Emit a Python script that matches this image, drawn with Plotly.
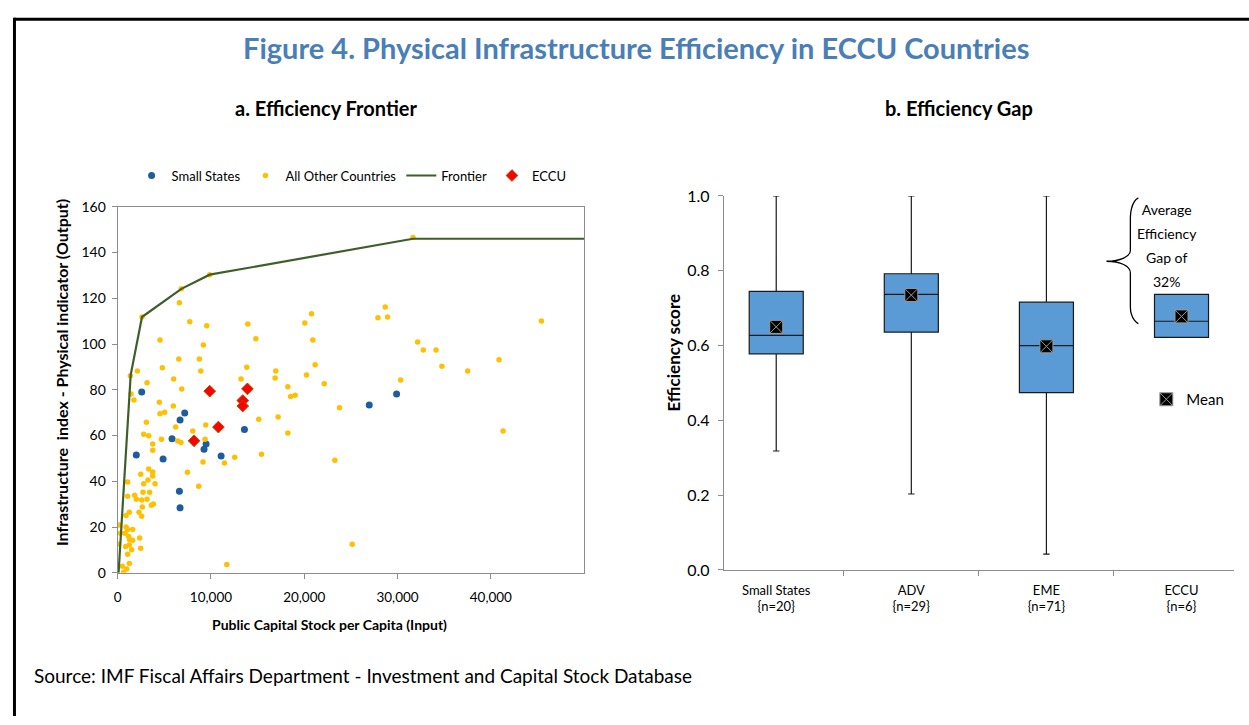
import plotly.graph_objects as go

# ---- panel a: efficiency frontier (input = capital stock per capita, output = infra index)
small_x = [2580, 2000, 4870, 5830, 6690, 7190, 6620, 6690, 9260, 9480, 11090, 13590, 26970, 29900]
small_y = [79.0, 51.5, 49.8, 58.6, 66.8, 69.9, 35.7, 28.4, 54.0, 56.3, 51.1, 62.6, 73.3, 78.2]

other_x = [1360, 2110, 2610, 3150, 4540, 4790, 6010, 6620, 6830, 6550, 7730, 8760, 8910, 9190,
           9550, 9870, 6870, 13950, 13840, 14810, 13230, 16880, 16950, 18240, 20060, 20780, 20920,
           21170, 20240, 22140, 31650, 28680, 27900, 28930, 32150, 32760, 34120, 34760, 37520,
           40880, 45420, 30330, 23780, 23280, 25140, 41310,
           1430, 1750, 4470, 4540, 5040, 5970, 3080, 6220, 8050, 9440, 2790, 3330, 4690, 6440,
           6790, 9370, 3760, 3760, 3330, 3760, 3760, 2470, 3250, 2790, 4010, 1070, 2720, 3430,
           1070, 1820, 2000, 2580, 3150, 2650, 3610, 3830, 2290, 2580, 1250, 900, 180, 900,
           1070, 1610, 290, 790, 1180, 1290, 1610, 2360, 2470, 80, 860, 1250, 1500, 1070, 1250,
           500, 970, 640, 9150, 8690, 7480, 11450, 12550, 11700, 15130, 17200, 15420, 18530,
           19020, 18240]
other_y = [86.1, 88.2, 111.8, 83.1, 101.8, 89.6, 84.7, 118.0, 124.1, 93.5, 109.7, 93.5, 88.2, 99.6,
           108.0, 130.3, 80.3, 108.8, 89.9, 102.3, 84.7, 85.1, 88.2, 81.3, 109.2, 113.2, 101.8,
           90.9, 86.5, 82.6, 146.5, 116.2, 111.5, 111.8, 100.9, 97.4, 97.4, 90.3, 88.2,
           93.1, 110.1, 84.3, 72.1, 49.2, 12.5, 62.0,
           78.2, 75.5, 74.6, 69.5, 70.2, 72.9, 65.8, 63.7, 62.0, 64.6, 60.6, 59.9, 58.4, 57.6,
           57.0, 58.4, 56.3, 53.6, 45.4, 44.1, 42.3, 43.1, 40.6, 38.9, 38.9, 39.7, 35.2, 35.2,
           33.5, 33.9, 32.2, 31.8, 32.2, 28.8, 29.5, 30.1, 26.5, 24.7, 26.5, 25.1, 20.9, 20.0,
           19.0, 19.0, 17.3, 17.3, 15.9, 14.5, 14.3, 15.2, 10.8, 12.6, 11.5, 12.2, 10.1, 8.1, 4.1,
           2.9, 1.7, 0.3, 48.4, 37.9, 44.0, 48.0, 50.5, 3.7, 67.1, 68.1, 51.8, 77.1,
           77.6, 61.1]

eccu_x = [9870, 13910, 13410, 13410, 10800, 8190]
eccu_y = [79.4, 80.4, 75.3, 72.9, 63.7, 57.7]

frontier_x = [100, 1400, 2610, 6830, 9870, 31650, 50000]
frontier_y = [0, 86.5, 111.8, 124.1, 130.3, 146.0, 146.0]

# ---- panel b: efficiency gap box plots
groups = ["Small States<br>{n=20}", "ADV<br>{n=29}", "EME<br>{n=71}", "ECCU<br>{n=6}"]
q1 = [0.578, 0.636, 0.474, 0.622]
median = [0.627, 0.737, 0.600, 0.665]
q3 = [0.745, 0.792, 0.716, 0.737]
low = [0.318, 0.203, 0.042, 0.622]
high = [1.0, 1.0, 1.0, 0.737]
mean = [0.650, 0.735, 0.598, 0.678]

W, H = 1249, 725
FONT = "Lato, sans-serif"


def px(x):
    return x / W


def py(y):
    return 1 - y / H


fig = go.Figure()

fig.add_trace(go.Scatter(x=small_x, y=small_y, mode="markers", name="Small States",
                         marker=dict(color="#1F5C9E", size=7), legend="legend"))
fig.add_trace(go.Scatter(x=other_x, y=other_y, mode="markers", name="All Other Countries",
                         marker=dict(color="#FFC000", size=5.5), legend="legend"))
fig.add_trace(go.Scatter(x=frontier_x, y=frontier_y, mode="lines", name="Frontier",
                         line=dict(color="#3F5F2A", width=2.2), legend="legend"))
fig.add_trace(go.Scatter(x=eccu_x, y=eccu_y, mode="markers", name="ECCU",
                         marker=dict(color="#FF0000", size=9, symbol="diamond",
                                     line=dict(color="#9A5A00", width=1)), legend="legend"))

fig.add_trace(go.Box(x=groups, q1=q1, median=median, q3=q3, lowerfence=low, upperfence=high,
                     xaxis="x2", yaxis="y2", fillcolor="#5B9BD5", width=0.4, whiskerwidth=0.12,
                     line=dict(color="#1a1a1a", width=1.2), boxpoints=False, showlegend=False))
fig.add_trace(go.Scatter(x=groups, y=mean, mode="markers", name="Mean", xaxis="x2", yaxis="y2",
                         marker=dict(symbol="square-x", size=13, color="#000000",
                                     line=dict(color="#9a9a9a", width=1)),
                         legend="legend2"))

axis_common = dict(showline=True, linecolor="#8c8c8c", linewidth=1, ticks="outside", ticklen=5,
                   tickcolor="#8c8c8c", showgrid=False, zeroline=False)


def tf(size):
    return dict(family=FONT, size=size, color="#000")


fig.update_layout(
    width=W, height=H, margin=dict(l=0, r=0, t=0, b=0),
    paper_bgcolor="white", plot_bgcolor="white",
    xaxis=dict(domain=[px(114), px(582)], range=[0, 50000], tickvals=[0, 10000, 20000, 30000, 40000],
               tickformat=",", mirror=True, tickfont=tf(13.5), ticklabelstandoff=7, **axis_common),
    yaxis=dict(domain=[py(578), py(202)], range=[0, 160], dtick=20, mirror=True, tickfont=tf(14),
               ticklabelstandoff=3, **axis_common),
    xaxis2=dict(domain=[px(722), px(1234)], anchor="y2", type="category", tickson="boundaries",
                tickfont=tf(13), ticklabelstandoff=8, **axis_common),
    yaxis2=dict(domain=[py(575), py(191)], anchor="x2", range=[0, 1], dtick=0.2, tickformat=".1f",
                tickfont=tf(16), ticklabelstandoff=5, **axis_common),
    legend=dict(orientation="h", x=px(128), y=py(170), xanchor="left", yanchor="middle",
                font=tf(13), bgcolor="rgba(0,0,0,0)"),
    legend2=dict(x=px(1146), y=py(400), xanchor="left", yanchor="middle",
                 font=tf(15), bgcolor="rgba(0,0,0,0)"),
)

gap_text = "<br>".join(f"<span style='font-size:14px'>{s}</span>"
                       for s in ["Average", "Efficiency", "Gap of", "32%"])

ann = [
    dict(text="<b>Figure 4. Physical Infrastructure Efficiency in ECCU Countries</b>", x=px(634), y=py(38),
         font=dict(size=29, color="#4A7EB6")),
    dict(text="<b>a. Efficiency Frontier</b>", x=px(323), y=py(101), font=dict(size=20)),
    dict(text="<b>b. Efficiency Gap</b>", x=px(958), y=py(101), font=dict(size=20)),
    dict(text="<b>Infrastructure  index - Physical indicator (Output)</b>", x=px(57), y=py(372),
         textangle=-90, font=dict(size=16)),
    dict(text="<b>Public Capital Stock per Capita (Input)</b>", x=px(327), y=py(631), font=dict(size=14)),
    dict(text="<b>Efficiency score</b>", x=px(672), y=py(352), textangle=-90, font=dict(size=17)),
    dict(text=gap_text, x=px(1167), y=py(242), font=dict(size=18.5)),
    dict(text="Source: IMF Fiscal Affairs Department - Investment and Capital Stock Database",
         x=px(28), y=py(683), xanchor="left", font=dict(size=19)),
]
for a in ann:
    a.setdefault("xanchor", "center")
    a["xref"] = "paper"
    a["yref"] = "paper"
    a["showarrow"] = False
    a["yanchor"] = "middle"
    f = a["font"]
    f.setdefault("family", FONT)
    f.setdefault("color", "#000")
    fig.add_annotation(**a)

# curly brace next to the ECCU box
pts = [(1138, 193), (1130, 197), (1130, 213), (1130, 247), (1130, 253), (1120, 258), (1106, 258),
       (1120, 258), (1130, 263), (1130, 270), (1130, 305), (1130, 318), (1138, 322)]
p = [f"{px(a):.5f},{py(b):.5f}" for a, b in pts]
brace = f"M {p[0]} C {p[1]} {p[2]} {p[2]} L {p[3]} C {p[4]} {p[5]} {p[6]} C {p[7]} {p[8]} {p[9]} L {p[10]} C {p[11]} {p[12]} {p[12]}"
fig.add_shape(type="path", path=brace, xref="paper", yref="paper", line=dict(color="#000", width=1.3))

# outer frame (top and left edges)
fig.add_shape(type="line", xref="paper", yref="paper", x0=px(10), x1=1, y0=py(9.5), y1=py(9.5),
              line=dict(color="#000", width=3))
fig.add_shape(type="line", xref="paper", yref="paper", x0=px(10.5), x1=px(10.5), y0=py(8), y1=0,
              line=dict(color="#000", width=3))

# pin the plot to the page corner so body margins don't shift it
pin = ("document.documentElement.style.margin='0';document.body.style.margin='0';"
       "document.documentElement.style.overflow='hidden';"
       "var d=document.getElementById('{plot_id}');"
       "d.style.position='fixed';d.style.left='0px';d.style.top='0px';")
fig.write_html("out.html", config={"displayModeBar": False}, post_script=pin)
